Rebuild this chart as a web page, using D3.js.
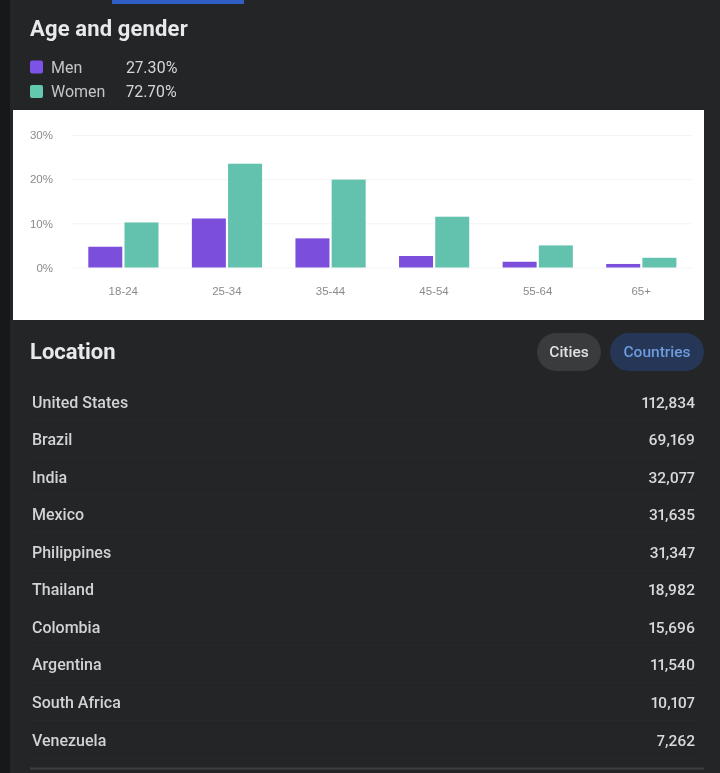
<!DOCTYPE html>
<html>
<head>
<meta charset="utf-8">
<script src="https://cdn.jsdelivr.net/npm/d3@7"></script>
<style>
    html, body { margin: 0; padding: 0; background: #242527; }
    svg { display: block; font-family: Roboto, sans-serif; filter: blur(0.5px); font-variant-numeric: proportional-nums; }
</style>
</head>
<body>
<div id="chart"></div>
<script>
const ageGroups = ['18-24', '25-34', '35-44', '45-54', '55-64', '65+'];
const menValues = [4.7, 11.1, 6.6, 2.6, 1.3, 0.8];
const womenValues = [10.2, 23.5, 19.9, 11.5, 5.0, 2.2];
const yTicks = [0, 10, 20, 30];

const legendNames = ['Men', 'Women'];
const legendShares = ['27.30%', '72.70%'];

const countries = ['United States', 'Brazil', 'India', 'Mexico', 'Philippines', 'Thailand', 'Colombia', 'Argentina', 'South Africa', 'Venezuela'];
const followers = [112834, 69169, 32077, 31635, 31347, 18982, 15696, 11540, 10107, 7262];

const width = 720, height = 773;
const menColor = '#7b4fdc', womenColor = '#62c2ae';

const svg = d3.select('#chart').append('svg')
    .attr('width', width).attr('height', height)
    .attr('viewBox', [0, 0, width, height]);

// page background
svg.append('rect').attr('width', width).attr('height', height).attr('fill', '#242527');
svg.append('rect').attr('width', 10).attr('height', height).attr('fill', '#17181a');
svg.append('rect').attr('x', 112).attr('width', 132).attr('height', 4).attr('fill', '#2f5fc4');

// header and legend
svg.append('text').attr('x', 30).attr('y', 36)
    .attr('fill', '#e8e9eb').attr('font-size', 22).attr('font-weight', 700)
    .style('letter-spacing', '0.15px')
    .text('Age and gender');

const legend = svg.append('g').selectAll('g')
    .data(legendNames)
    .join('g')
    .attr('transform', (d, i) => `translate(30, ${60.5 + i * 24.5})`);
legend.append('rect').attr('width', 13).attr('height', 13).attr('rx', 2)
    .attr('fill', (d, i) => i ? '#62c9b0' : '#7d52e6');
legend.append('text').attr('x', 21).attr('y', 12)
    .attr('fill', '#c4c6c9').attr('font-size', 16)
    .text(d => d);
legend.append('text').attr('x', 96).attr('y', 12)
    .attr('fill', '#d6d7d9').attr('font-size', 16)
    .text((d, i) => legendShares[i]);

// white chart card
svg.append('rect').attr('x', 13).attr('y', 110).attr('width', 691).attr('height', 210)
    .attr('fill', '#fff');

const x = d3.scaleBand().domain(ageGroups).range([71.5, 693]);
const y = d3.scaleLinear().domain([0, 30]).range([267.5, 135]);

const gy = svg.append('g')
    .attr('transform', 'translate(72, 0)')
    .call(d3.axisLeft(y).tickValues(yTicks).tickFormat(d => d + '%').tickSize(-620).tickPadding(19));
gy.select('.domain').remove();
gy.selectAll('.tick line').attr('stroke', '#f4f4f4');
gy.selectAll('.tick text').attr('fill', '#8a8a8a').attr('font-size', 11.5);

const gx = svg.append('g')
    .attr('transform', 'translate(0, 267.5)')
    .call(d3.axisBottom(x).tickSize(0).tickPadding(19));
gx.select('.domain').remove();
gx.selectAll('.tick text').attr('fill', '#8a8a8a').attr('font-size', 11.5);

const barW = 34;
const groups = svg.append('g').selectAll('g')
    .data(ageGroups)
    .join('g')
    .attr('transform', d => `translate(${x(d) + x.bandwidth() / 2}, 0)`);
groups.append('rect')
    .attr('x', -barW - 1)
    .attr('width', barW)
    .attr('y', (d, i) => y(menValues[i]))
    .attr('height', (d, i) => y(0) - y(menValues[i]))
    .attr('fill', menColor);
groups.append('rect')
    .attr('x', 1.2)
    .attr('width', barW)
    .attr('y', (d, i) => y(womenValues[i]))
    .attr('height', (d, i) => y(0) - y(womenValues[i]))
    .attr('fill', womenColor);

// location header and toggle
svg.append('text').attr('x', 30).attr('y', 358.5)
    .attr('fill', '#e8e9eb').attr('font-size', 22).attr('font-weight', 700)
    .text('Location');

svg.append('rect').attr('x', 537).attr('y', 333).attr('width', 64).attr('height', 38).attr('rx', 19)
    .attr('fill', '#3a3b3d');
svg.append('text').attr('x', 569).attr('y', 357).attr('text-anchor', 'middle')
    .attr('fill', '#e0e1e3').attr('font-size', 15.5).attr('font-weight', 500)
    .text('Cities');
svg.append('rect').attr('x', 610).attr('y', 333).attr('width', 94).attr('height', 38).attr('rx', 19)
    .attr('fill', '#263656');
svg.append('text').attr('x', 657).attr('y', 357).attr('text-anchor', 'middle')
    .attr('fill', '#6d9be0').attr('font-size', 15.5).attr('font-weight', 500)
    .text('Countries');

// country rows
const rowY = d3.scalePoint().domain(countries).range([401.5, 739.5]);
const fmt = d3.format(',');

const rows = svg.append('g').selectAll('g')
    .data(countries)
    .join('g')
    .attr('transform', d => `translate(0, ${rowY(d)})`);
rows.append('line')
    .attr('x1', 30).attr('x2', 696).attr('y1', 18.5).attr('y2', 18.5)
    .attr('stroke', '#292a2d');
rows.append('text').attr('x', 32).attr('y', 6)
    .attr('fill', '#d2d3d5').attr('font-size', 16).attr('font-weight', 500)
    .text(d => d);
rows.append('text').attr('x', 695).attr('y', 6).attr('text-anchor', 'end')
    .attr('fill', '#d8d9db').attr('font-size', 15.5).attr('font-weight', 500)
    .text((d, i) => fmt(followers[i]));

svg.append('line').attr('x1', 30).attr('x2', 704).attr('y1', 768.5).attr('y2', 768.5)
    .attr('stroke', '#3c3e41').attr('stroke-width', 2);
</script>
</body>
</html>
